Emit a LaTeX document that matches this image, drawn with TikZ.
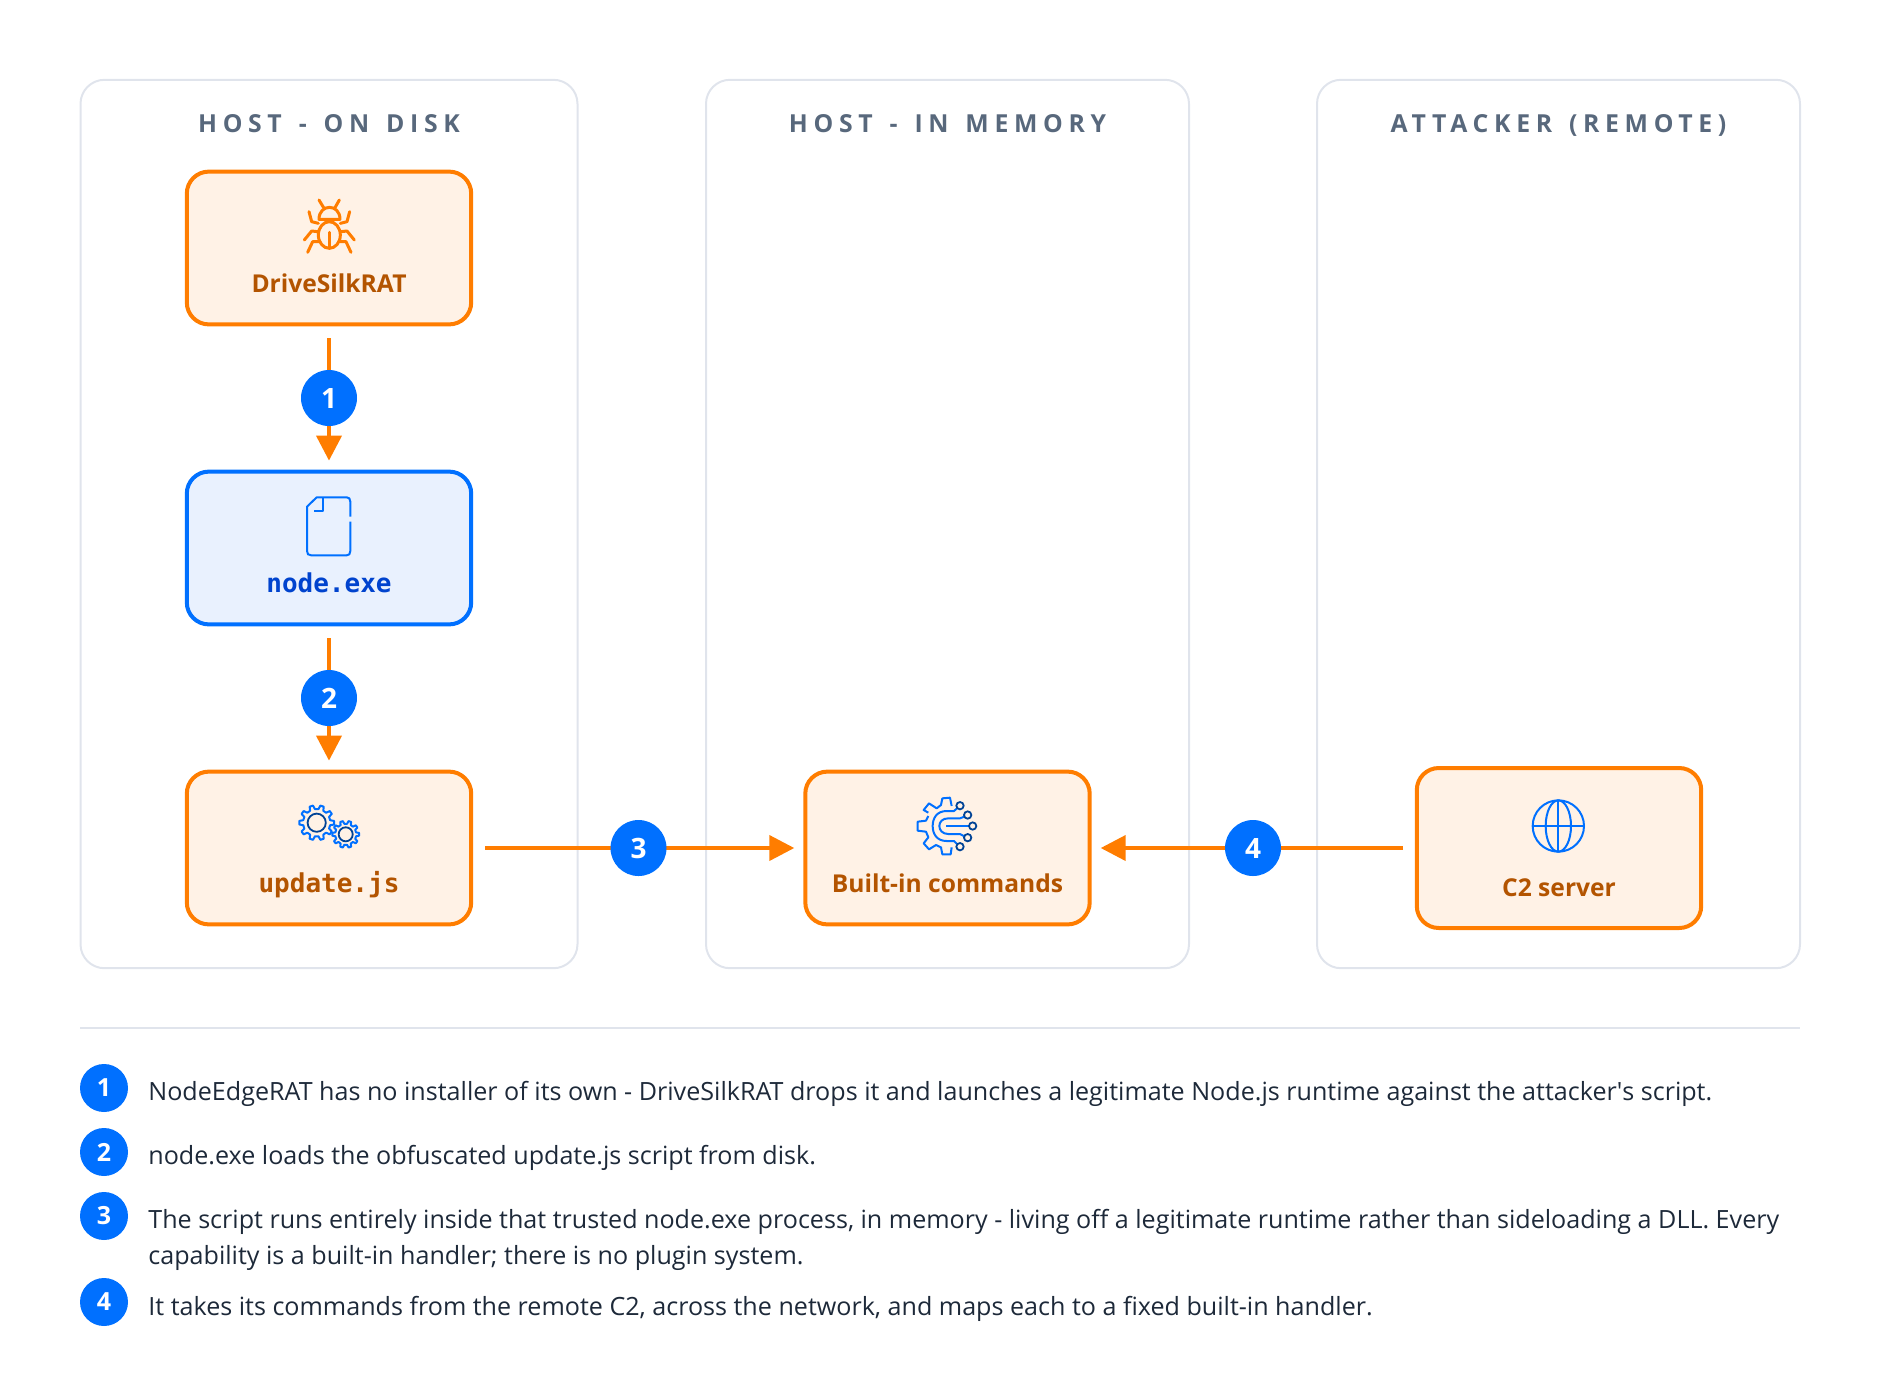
\documentclass[tikz,border=0pt]{standalone}
\usepackage{fontspec}
\setmainfont{Open Sans}
\newfontfamily\titlefont[LetterSpace=22.8,WordSpace=1.4]{Open Sans}
\newfontfamily\monofont{DejaVu Sans Mono}
\usepackage{tikz}
\usetikzlibrary{arrows.meta}
\definecolor{flow}{RGB}{255,125,0}
\definecolor{flowfill}{RGB}{255,242,230}
\definecolor{flowtext}{RGB}{179,84,0}
\definecolor{blue}{RGB}{0,112,255}
\definecolor{bluefill}{RGB}{233,241,254}
\definecolor{bluetext}{RGB}{0,67,206}
\definecolor{darkring}{RGB}{0,67,150}
\definecolor{panelline}{RGB}{224,228,236}
\definecolor{titlegrey}{RGB}{88,104,124}
\definecolor{bodytext}{RGB}{29,41,57}

\tikzset{
  panelbox/.style={draw=panelline, line width=1pt, rounded corners=12pt, minimum height=444.2pt, outer sep=0pt},
  paneltitle/.style={anchor=base, text=titlegrey, font=\titlefont\bfseries\fontsize{12.4}{14}\selectfont},
  flowbox/.style={draw=flow, fill=flowfill, line width=2pt, rounded corners=11pt, minimum width=142.2pt, minimum height=76.4pt, outer sep=0pt},
  bluebox/.style={flowbox, draw=blue, fill=bluefill},
  boxlabel/.style={anchor=base, text=flowtext, font=\bfseries\fontsize{12.3}{15}\selectfont},
  monolabel/.style={boxlabel, font=\monofont\bfseries\fontsize{13}{15}\selectfont},
  flowarrow/.style={draw=flow, line width=2pt, -{Triangle[length=12.5pt,width=12.5pt]}, shorten <=6.9pt, shorten >=5.5pt},
  badge/.style={circle, fill=blue, text=white, inner sep=0pt, minimum size=28pt, font=\bfseries\fontsize{14}{16}\selectfont},
  legendbadge/.style={badge, minimum size=24pt, font=\bfseries\fontsize{12.5}{15}\selectfont},
  legendtext/.style={anchor=base west, inner sep=0pt, text=bodytext, align=left, font=\fontsize{12.55}{18}\selectfont},
  iconorange/.style={draw=flow, line width=1.5pt, line cap=round, line join=round},
  iconblue/.style={draw=blue, line width=1pt, line join=round},
  icondark/.style={draw=darkring, line width=0.9pt},
}

% toothed wheel: x, y, outer radius, teeth
\newcommand{\gearicon}[4]{%
  \begin{scope}[shift={(#1,#2)}]
    \pgfmathsetmacro{\toothstep}{360/#4}
    \draw[iconblue] (-0.3*\toothstep:0.78*#3)
      \foreach \k in {1,...,#4} {
        -- ({(\k-1)*\toothstep-0.3*\toothstep}:{0.78*#3})
        -- ({(\k-1)*\toothstep-0.16*\toothstep}:{#3})
        -- ({(\k-1)*\toothstep+0.16*\toothstep}:{#3})
        -- ({(\k-1)*\toothstep+0.3*\toothstep}:{0.78*#3})
      } -- cycle;
    \draw[icondark] (0,0) circle (0.52*#3);
  \end{scope}
}

\begin{document}
\begin{tikzpicture}[x=0.5pt,y=-0.5pt]
\useasboundingbox (0,0) rectangle (1880,1388);

%---------------------------------------
% Panels
%---------------------------------------
\node[panelbox, minimum width=248.5pt] (diskPanel) at (329,524) {};
\node[panelbox, minimum width=241.5pt] (memPanel) at (947.5,524) {};
\node[panelbox, minimum width=241.5pt] (remotePanel) at (1558.5,524) {};

\node[paneltitle] (diskTitle) at (329,132) {HOST - ON DISK};
\node[paneltitle] (memTitle) at (947.5,132) {HOST - IN MEMORY};
\node[paneltitle] (remoteTitle) at (1558.5,132) {ATTACKER (REMOTE)};

%---------------------------------------
% Boxes
%---------------------------------------
\node[flowbox] (driveBox) at (329,248) {};
\node[bluebox] (nodeBox) at (329,548) {};
\node[flowbox] (updateBox) at (329,848) {};
\node[flowbox] (builtinBox) at (947.5,848) {};
\node[flowbox, minimum height=80pt] (serverBox) at (1559,848) {};

\node[boxlabel] (driveLabel) at (329,292) {DriveSilkRAT};
\node[monolabel, text=bluetext] (nodeLabel) at (329,592) {node.exe};
\node[monolabel] (updateLabel) at (329,892) {update.js};
\node[boxlabel] (builtinLabel) at (947.5,892) {Built-in commands};
\node[boxlabel] (serverLabel) at (1559,896) {C2 server};

%---------------------------------------
% Icons
%---------------------------------------
% bug
\begin{scope}[shift={(170,160)},scale=1/3]
  \draw[iconorange] (447,178) .. controls (447,130) and (510,130) .. (510,178) -- cycle;
  \draw[iconorange] (478,225) ellipse (33 and 40);
  \draw[iconorange] (478,217) -- (478,263);
  \draw[iconorange] (461,143) -- (447,120);
  \draw[iconorange] (495,143) -- (508,120);
  \foreach \s in {0,1} {
    \begin{scope}[shift={(\s*956,0)},xscale=1-2*\s]
      \draw[iconorange] (445,190) -- (425,185) -- (417,155);
      \draw[iconorange] (443,215) -- (425,213) -- (403,240);
      \draw[iconorange] (447,245) -- (428,245) -- (413,277);
    \end{scope}
  }
\end{scope}

% file
\begin{scope}[shift={(170,460)},scale=1/3]
  \draw[iconblue] (541,170) -- (541,125) .. controls (541,116) and (537,112) .. (530,112)
    -- (440,112) -- (411,140) -- (411,273) .. controls (411,282) and (415,286) .. (424,286)
    -- (530,286) .. controls (537,286) and (541,282) .. (541,273) -- (541,185);
  \draw[iconblue] (432,153) -- (458,153) -- (458,112);
\end{scope}

% gears
\gearicon{316.7}{822.7}{17.5}{10}
\gearicon{345.7}{834.3}{13.5}{10}

% gear with circuit lines
\begin{scope}[shift={(780,760)},scale=1/3]
  \draw[iconblue] (515,138) -- (510,113) -- (487,115) -- (483,135) -- (470,145) -- (447,130)
    -- (431,150) -- (445,158);
  \draw[iconblue] (445,168) -- (438,182) -- (413,185) -- (413,212) -- (438,215) -- (445,232)
    -- (431,250) -- (447,268) -- (468,255) -- (483,262) -- (487,283) -- (512,283) -- (515,262);
  \draw[iconblue] (531,145) -- (522,153) -- (500,153) .. controls (470,153) and (458,175) .. (458,198)
    .. controls (458,221) and (470,243) .. (500,243) -- (522,243) -- (531,252);
  \draw[iconblue] (553,170) -- (540,175) -- (505,175) .. controls (487,175) and (478,186) .. (478,198)
    .. controls (478,210) and (487,222) .. (505,222) -- (540,222) -- (553,229);
  \draw[iconblue] (498,198) -- (567,198);
  \foreach \cx/\cy in {540/137, 563/165, 578/198, 563/233, 540/260}
    \draw[icondark] (\cx,\cy) circle (11);
\end{scope}

% globe
\begin{scope}[shift={(1390,760)},scale=1/3]
  \draw[iconblue] (505,198) circle (77);
  \draw[iconblue] (505,198) ellipse (38 and 77);
  \draw[iconblue] (505,121) -- (505,275);
  \draw[iconblue] (428,198) -- (582,198);
\end{scope}

%---------------------------------------
% Flow
%---------------------------------------
\draw[flowarrow] (driveBox) -- (nodeBox);
\draw[flowarrow] (nodeBox) -- (updateBox);
\draw[flowarrow] (updateBox) -- (builtinBox);
\draw[flowarrow] (serverBox) -- (builtinBox);

\node[badge] (stepOne) at (329,398) {1};
\node[badge] (stepTwo) at (329,698) {2};
\node[badge] (stepThree) at (638.5,848) {3};
\node[badge] (stepFour) at (1253,848) {4};

%---------------------------------------
% Legend
%---------------------------------------
\coordinate (ruleLeft) at (80,1028);
\coordinate (ruleRight) at (1800,1028);
\draw[draw=panelline, line width=1pt] (ruleLeft) -- (ruleRight);

\node[legendbadge] (legendOne) at (104,1088) {1};
\node[legendbadge] (legendTwo) at (104,1152) {2};
\node[legendbadge] (legendThree) at (104,1216) {3};
\node[legendbadge] (legendFour) at (104,1302) {4};

\node[legendtext] (textOne) at (148,1100) {NodeEdgeRAT has no installer of its own - DriveSilkRAT drops it and launches a legitimate Node.js runtime against the attacker\textquotesingle s script.};
\node[legendtext] (textTwo) at (148,1164) {node.exe loads the obfuscated update.js script from disk.};
\node[legendtext] (textThree) at (148,1264) {The script runs entirely inside that trusted node.exe process, in memory - living off a legitimate runtime rather than sideloading a DLL. Every\\capability is a built-in handler; there is no plugin system.};
\node[legendtext] (textFour) at (148,1315) {It takes its commands from the remote C2, across the network, and maps each to a fixed built-in handler.};

\end{tikzpicture}
\end{document}
